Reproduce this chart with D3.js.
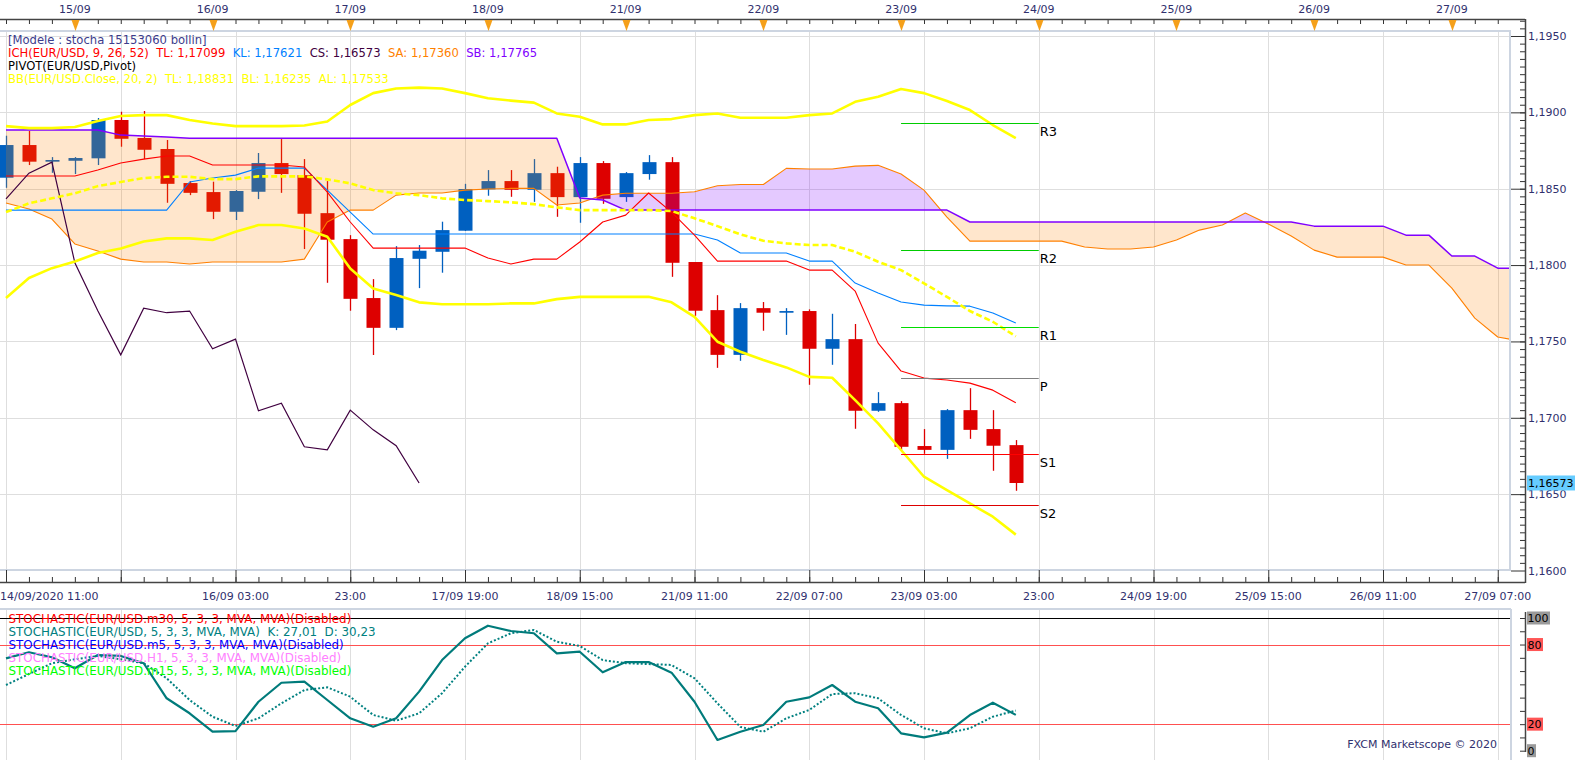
<!DOCTYPE html>
<html>
<head>
<meta charset="utf-8">
<script src="https://cdn.jsdelivr.net/npm/d3@7"></script>
<style>
body { margin: 0; background: #fff; }
svg { display: block; font-family: "DejaVu Sans", Verdana, sans-serif; }
text { white-space: pre; }
</style>
</head>
<body>
<svg id="chart" width="1583" height="760"></svg>
<script>
// EUR/USD H4 candles, index 0 = 14/09/2020 11:00
var open = [1.18572, 1.18786, 1.18677, 1.18683, 1.18699, 1.18950, 1.18832, 1.18760, 1.18537, 1.18478,
    1.18349, 1.18480, 1.18668, 1.18589, 1.18340, 1.18170, 1.17784, 1.17589, 1.18041, 1.18087,
    1.18225, 1.18496, 1.18550, 1.18493, 1.18602, 1.18445, 1.18668, 1.18445, 1.18596, 1.18674,
    1.18020, 1.17705, 1.17412, 1.17718, 1.17688, 1.17699, 1.17452, 1.17515, 1.17046, 1.17096,
    1.16815, 1.16790, 1.17050, 1.16926, 1.16821]
var high = [1.18847, 1.18878, 1.18707, 1.18707, 1.18963, 1.19004, 1.19009, 1.18819, 1.18550, 1.18546,
    1.18491, 1.18734, 1.18825, 1.18694, 1.18550, 1.18196, 1.17908, 1.18124, 1.18131, 1.18284,
    1.18532, 1.18622, 1.18622, 1.18694, 1.18644, 1.18707, 1.18681, 1.18609, 1.18720, 1.18707,
    1.18020, 1.17803, 1.17751, 1.17758, 1.17718, 1.17710, 1.17681, 1.17614, 1.17168, 1.17109,
    1.16926, 1.17057, 1.17194, 1.17050, 1.16854]
var low = [1.18506, 1.18655, 1.18604, 1.18596, 1.18655, 1.18775, 1.18694, 1.18408, 1.18458, 1.18301,
    1.18295, 1.18432, 1.18473, 1.18105, 1.17884, 1.17701, 1.17411, 1.17574, 1.17849, 1.17950,
    1.18223, 1.18454, 1.18447, 1.18414, 1.18316, 1.18277, 1.18401, 1.18414, 1.18559, 1.17923,
    1.17668, 1.17327, 1.17373, 1.17570, 1.17543, 1.17216, 1.17347, 1.16928, 1.17039, 1.16790,
    1.16764, 1.16731, 1.16862, 1.16653, 1.16522]
var close = [1.18786, 1.18677, 1.18688, 1.18701, 1.18950, 1.18827, 1.18755, 1.18532, 1.18473, 1.18349,
    1.18485, 1.18668, 1.18596, 1.18336, 1.18166, 1.17779, 1.17589, 1.18046, 1.18094, 1.18229,
    1.18498, 1.18550, 1.18493, 1.18602, 1.18445, 1.18668, 1.18434, 1.18602, 1.18674, 1.18015,
    1.17701, 1.17412, 1.17718, 1.17688, 1.17699, 1.17452, 1.17515, 1.17046, 1.17096, 1.16810,
    1.16790, 1.17050, 1.16921, 1.16817, 1.16573]

// Ichimoku
var tenkan = [1.18583, 1.18583, 1.18583, 1.18583, 1.18622, 1.18668, 1.18694, 1.18714, 1.18714, 1.18655,
    1.18655, 1.18655, 1.18655, 1.18642, 1.18478, 1.18282, 1.18111, 1.18111, 1.18111, 1.18111,
    1.18111, 1.18046, 1.18007, 1.18039, 1.18039, 1.18151, 1.18282, 1.18327, 1.18472, 1.18347,
    1.18196, 1.18026, 1.18026, 1.18026, 1.18026, 1.17967, 1.17967, 1.17830, 1.17489, 1.17306,
    1.17260, 1.17247, 1.17227, 1.17181, 1.17099]
var kijun = [1.18360, 1.18360, 1.18360, 1.18360, 1.18360, 1.18360, 1.18360, 1.18360, 1.18544, 1.18570,
    1.18589, 1.18635, 1.18635, 1.18635, 1.18491, 1.18347, 1.18203, 1.18203, 1.18203, 1.18203,
    1.18203, 1.18203, 1.18203, 1.18203, 1.18203, 1.18203, 1.18203, 1.18203, 1.18203, 1.18203,
    1.18203, 1.18164, 1.18079, 1.18079, 1.18079, 1.18026, 1.18026, 1.17882, 1.17817, 1.17758,
    1.17738, 1.17733, 1.17731, 1.17686, 1.17621]
var spanA = [1.18406, 1.18367, 1.18301, 1.18138, 1.18092, 1.18039, 1.18020, 1.18020, 1.18007, 1.18020,
    1.18020, 1.18020, 1.18020, 1.18039, 1.18282, 1.18360, 1.18360, 1.18458, 1.18472, 1.18472,
    1.18491, 1.18498, 1.18502, 1.18502, 1.18393, 1.18406, 1.18458, 1.18470, 1.18470, 1.18470,
    1.18480, 1.18519, 1.18528, 1.18528, 1.18633, 1.18629, 1.18629, 1.18648, 1.18653, 1.18596,
    1.18491, 1.18314, 1.18157, 1.18157, 1.18157, 1.18157, 1.18157, 1.18118, 1.18105, 1.18105,
    1.18118, 1.18164, 1.18229, 1.18262, 1.18341, 1.18269, 1.18190, 1.18098, 1.18052, 1.18052,
    1.18052, 1.18000, 1.18000, 1.17849, 1.17653, 1.17529, 1.17502]
var spanB = [1.18884, 1.18884, 1.18884, 1.18884, 1.18884, 1.18851, 1.18845, 1.18838, 1.18830, 1.18830,
    1.18830, 1.18830, 1.18830, 1.18830, 1.18830, 1.18830, 1.18830, 1.18830, 1.18830, 1.18830,
    1.18830, 1.18830, 1.18830, 1.18830, 1.18830, 1.18439, 1.18426, 1.18360, 1.18360, 1.18360,
    1.18360, 1.18360, 1.18360, 1.18360, 1.18360, 1.18360, 1.18360, 1.18360, 1.18360, 1.18360,
    1.18360, 1.18360, 1.18282, 1.18282, 1.18282, 1.18282, 1.18282, 1.18282, 1.18282, 1.18282,
    1.18282, 1.18282, 1.18282, 1.18282, 1.18282, 1.18282, 1.18282, 1.18255, 1.18255, 1.18255,
    1.18255, 1.18196, 1.18196, 1.18059, 1.18059, 1.17980, 1.17980]

// Bollinger (20, 2)
var bbUp = [1.18910, 1.18897, 1.18897, 1.18904, 1.18943, 1.18976, 1.18982, 1.18982, 1.18950, 1.18927,
    1.18910, 1.18910, 1.18910, 1.18914, 1.18940, 1.19048, 1.19126, 1.19156, 1.19162, 1.19156,
    1.19126, 1.19092, 1.19077, 1.19064, 1.18993, 1.18971, 1.18921, 1.18921, 1.18950, 1.18956,
    1.18982, 1.18993, 1.18965, 1.18965, 1.18965, 1.18982, 1.18993, 1.19069, 1.19102, 1.19153,
    1.19126, 1.19074, 1.19015, 1.18917, 1.18831]
var bbMid = [1.18347, 1.18404, 1.18437, 1.18470, 1.18517, 1.18544, 1.18570, 1.18578, 1.18578, 1.18563,
    1.18563, 1.18581, 1.18581, 1.18581, 1.18561, 1.18535, 1.18491, 1.18470, 1.18458, 1.18437,
    1.18426, 1.18419, 1.18411, 1.18399, 1.18378, 1.18360, 1.18360, 1.18360, 1.18360, 1.18354,
    1.18306, 1.18255, 1.18201, 1.18159, 1.18142, 1.18131, 1.18131, 1.18087, 1.18022, 1.17967,
    1.17880, 1.17792, 1.17699, 1.17629, 1.17533]
var bbLow = [1.17784, 1.17915, 1.17980, 1.18023, 1.18079, 1.18108, 1.18154, 1.18175, 1.18175, 1.18164,
    1.18218, 1.18262, 1.18262, 1.18240, 1.18185, 1.17978, 1.17847, 1.17804, 1.17756, 1.17743,
    1.17743, 1.17743, 1.17749, 1.17749, 1.17777, 1.17792, 1.17792, 1.17792, 1.17792, 1.17756,
    1.17661, 1.17498, 1.17432, 1.17378, 1.17330, 1.17268, 1.17262, 1.17116, 1.16963, 1.16789,
    1.16614, 1.16527, 1.16439, 1.16352, 1.16235]

// daily pivots for 23/09
var pivotNames = ["R3", "R2", "R1", "P", "S1", "S2"]
var pivotValues = [1.18928, 1.18096, 1.17592, 1.17258, 1.16762, 1.16426]
var pivotColors = ["#00cc00", "#00cc00", "#00dd00", "#808080", "#ff0000", "#dd0000"]

// stochastic 5,3,3
var stochK = [69.6, 74.2, 70.4, 62.1, 72.1, 71.4, 65.9, 39.5, 28.2, 14.3,
    14.8, 36.9, 51.2, 52.0, 38.2, 24.4, 18.1, 24.4, 44.5, 68.3,
    84.7, 94.2, 90.2, 88.5, 73.4, 74.6, 59.1, 66.8, 66.8, 58.8,
    36.9, 8.1, 14.3, 19.4, 36.9, 40.2, 49.5, 36.9, 32.0, 13.1,
    10.1, 13.6, 26.9, 36.2, 27.01]
var stochD = [49.5, 57.8, 65.9, 68.9, 71.4, 68.9, 65.9, 54.6, 38.2, 25.6,
    18.6, 24.4, 35.7, 45.7, 47.8, 40.7, 26.9, 22.6, 28.2, 43.3,
    63.3, 80.9, 88.5, 91.0, 82.1, 78.9, 68.3, 65.9, 65.3, 64.6,
    54.6, 35.7, 17.9, 14.3, 24.4, 30.7, 42.7, 43.3, 39.5, 26.9,
    16.9, 13.1, 16.9, 25.6, 30.23]

// axis labels
var dayIdx = [3, 9, 15, 21, 27, 33, 39, 45, 51, 57, 63]
var dayLabels = ["15/09", "16/09", "17/09", "18/09", "21/09", "22/09", "23/09", "24/09", "25/09", "26/09", "27/09"]
var timeIdx = [0, 10, 15, 20, 25, 30, 35, 40, 45, 50, 55, 60, 65]
var timeLabels = ["14/09/2020 11:00", "16/09 03:00", "23:00", "17/09 19:00", "18/09 15:00", "21/09 11:00",
    "22/09 07:00", "23/09 03:00", "23:00", "24/09 19:00", "25/09 15:00", "26/09 11:00", "27/09 07:00"]

var legendTop = [
    [["[Modele : stocha 15153060 bollin]", "#3c3c8c"]],
    [["ICH(EUR/USD, 9, 26, 52)  ", "#ff0000"], ["TL: 1,17099  ", "#ff0000"], ["KL: 1,17621  ", "#0080ff"],
     ["CS: 1,16573  ", "#400040"], ["SA: 1,17360  ", "#ff8000"], ["SB: 1,17765", "#8000ff"]],
    [["PIVOT(EUR/USD,Pivot)", "#000000"]],
    [["BB(EUR/USD.Close, 20, 2)  TL: 1,18831  BL: 1,16235  AL: 1,17533", "#ffff00"]]
]
var legendStoch = [
    ["STOCHASTIC(EUR/USD.m30, 5, 3, 3, MVA, MVA)(Disabled)", "#ff0000"],
    ["STOCHASTIC(EUR/USD, 5, 3, 3, MVA, MVA)  K: 27,01  D: 30,23", "#008080"],
    ["STOCHASTIC(EUR/USD.m5, 5, 3, 3, MVA, MVA)(Disabled)", "#0000ff"],
    ["STOCHASTIC(EUR/USD.H1, 5, 3, 3, MVA, MVA)(Disabled)", "#ff80ff"],
    ["STOCHASTIC(EUR/USD.m15, 5, 3, 3, MVA, MVA)(Disabled)", "#00ff00"]
]

const svg = d3.select("#chart")
const H = 760
const plotR = 1511, axisX = 1525
const navy = "#30306e"

const x = d3.scaleLinear().domain([0, 65]).range([6, 6 + 65 * 22.95])
const y = d3.scaleLinear().domain([1.16, 1.195]).range([570.5, 36])
const ys = d3.scaleLinear().domain([0, 100]).range([750.7, 618])
const comma = n => v => d3.format("." + n + "f")(v).replace(".", ",")

const idx = d3.range(open.length)
const cloudIdx = d3.range(spanA.length)

const defs = svg.append("defs")
defs.append("clipPath").attr("id", "cp-price")
    .append("rect").attr("x", 0).attr("y", 31).attr("width", plotR).attr("height", 539)
defs.append("clipPath").attr("id", "cp-stoch")
    .append("rect").attr("x", 0).attr("y", 609).attr("width", plotR).attr("height", 151)
defs.append("clipPath").attr("id", "cp-aboveA")
    .append("path").attr("d", d3.area().x(i => x(i)).y0(0).y1(i => y(spanA[i]))(cloudIdx))
defs.append("clipPath").attr("id", "cp-belowA")
    .append("path").attr("d", d3.area().x(i => x(i)).y0(H).y1(i => y(spanA[i]))(cloudIdx))

// ---------- price panel ----------
const main = svg.append("g").attr("clip-path", "url(#cp-price)")
const gridX = d3.range(0, 66, 5)
const priceTicks = d3.range(1.16, 1.19501, 0.005)

main.selectAll(".vg").data(gridX).join("line")
    .attr("x1", d => Math.round(x(d)) + 0.5).attr("x2", d => Math.round(x(d)) + 0.5)
    .attr("y1", 31).attr("y2", 570)
    .attr("stroke", "#dedede")
main.selectAll(".hg").data(priceTicks).join("line")
    .attr("x1", 0).attr("x2", plotR)
    .attr("y1", d => Math.round(y(d)) + 0.5).attr("y2", d => Math.round(y(d)) + 0.5)
    .attr("stroke", "#dedede")

const candleColor = i => close[i] >= open[i] ? "#0060c0" : "#dd0000"
main.selectAll(".wick").data(idx).join("line")
    .attr("x1", i => Math.round(x(i)) + 0.5).attr("x2", i => Math.round(x(i)) + 0.5)
    .attr("y1", i => y(high[i])).attr("y2", i => y(low[i]))
    .attr("stroke", candleColor).attr("stroke-width", 1.3)
main.selectAll(".body").data(idx).join("rect")
    .attr("x", i => Math.round(x(i)) - 6.5)
    .attr("y", i => y(Math.max(open[i], close[i])))
    .attr("width", 14)
    .attr("height", i => Math.max(1.5, y(Math.min(open[i], close[i])) - y(Math.max(open[i], close[i]))))
    .attr("fill", candleColor)

// kumo, drawn over the candles
const band = d3.area().x(i => x(i)).y0(i => y(spanA[i])).y1(i => y(spanB[i]))
main.append("g").attr("clip-path", "url(#cp-aboveA)")
    .append("path").attr("d", band(cloudIdx)).attr("fill", "#ff8000").attr("fill-opacity", 0.2)
main.append("g").attr("clip-path", "url(#cp-belowA)")
    .append("path").attr("d", band(cloudIdx)).attr("fill", "#8000ff").attr("fill-opacity", 0.21)

function series(arr, ids, color, width, dash) {
    const p = main.append("path")
        .datum(ids)
        .attr("fill", "none")
        .attr("stroke", color)
        .attr("stroke-width", width)
        .attr("stroke-linejoin", "round")
        .attr("d", d3.line().x(i => x(i)).y(i => y(arr[i])))
    if (dash) p.attr("stroke-dasharray", dash)
    return p
}

series(spanA, cloudIdx, "#ff8000", 1.1)
series(spanB, cloudIdx, "#8000ff", 1.5)
series(kijun, idx, "#0080ff", 1.1)
series(tenkan, idx, "#ff0000", 1.1)

// chikou = close shifted 26 bars back
const chikIdx = d3.range(0, close.length - 26)
main.append("path")
    .datum(chikIdx)
    .attr("fill", "none")
    .attr("stroke", "#400040")
    .attr("stroke-width", 1.2)
    .attr("d", d3.line().x(i => x(i)).y(i => y(close[i + 26])))

series(bbUp, idx, "#ffff00", 2.6)
series(bbLow, idx, "#ffff00", 2.6)
series(bbMid, idx, "#ffff00", 2.6, "6,3")

// pivots
pivotValues.forEach((v, k) => {
    const py = Math.round(y(v)) + 0.5
    main.append("line")
        .attr("x1", x(39)).attr("x2", x(45))
        .attr("y1", py).attr("y2", py)
        .attr("stroke", pivotColors[k]).attr("stroke-width", 1.2)
    main.append("text")
        .attr("x", x(45) + 1).attr("y", py + 12)
        .attr("font-size", 13).attr("fill", "#000")
        .text(pivotNames[k])
})

// frame
svg.append("rect").attr("x", -2).attr("y", 31).attr("width", plotR + 1).attr("height", 539)
    .attr("fill", "none").attr("stroke", "#cdd5e1").attr("stroke-width", 2)

// legends: one text per row, coloured tspans
legendTop.forEach((row, r) => {
    svg.append("text")
        .attr("x", 8).attr("y", 43.5 + r * 13)
        .attr("font-size", 11.6)
        .selectAll("tspan").data(row).join("tspan")
        .attr("fill", d => d[1])
        .text(d => d[0])
})

// ---------- top axis ----------
const topAx = svg.append("g").attr("transform", "translate(0,19)")
topAx.call(d3.axisBottom(x).tickValues(d3.range(0, 66)).tickSize(5).tickFormat(""))
topAx.select(".domain").remove()
topAx.selectAll("line").attr("stroke", "#333")
svg.append("line").attr("x1", 0).attr("x2", axisX).attr("y1", 19.5).attr("y2", 19.5).attr("stroke", "#444").attr("stroke-width", 1.5)
svg.selectAll(".tri").data(dayIdx).join("path")
    .attr("d", d => { const c = Math.round(x(d)) + 0.5; return `M${c - 4},20 L${c + 4},20 L${c},31 Z` })
    .attr("fill", "#f5a01a")
svg.selectAll(".dayl").data(dayIdx).join("text")
    .attr("x", d => x(d)).attr("y", 13)
    .attr("text-anchor", "middle").attr("font-size", 11).attr("fill", navy)
    .text((d, k) => dayLabels[k])

// ---------- bottom time axis ----------
const botAx = svg.append("g").attr("transform", "translate(0,582)")
botAx.call(d3.axisBottom(x).tickValues(d3.range(0, 66)).tickSizeInner(-5).tickSizeOuter(0).tickFormat(""))
botAx.select(".domain").remove()
const botMaj = svg.append("g").attr("transform", "translate(0,582)")
botMaj.call(d3.axisBottom(x).tickValues(gridX).tickSizeInner(-12).tickSizeOuter(0).tickFormat(""))
botMaj.select(".domain").remove()
svg.selectAll("g.tick line").attr("stroke", "#333")
svg.append("line").attr("x1", 0).attr("x2", axisX).attr("y1", 582.5).attr("y2", 582.5).attr("stroke", "#444").attr("stroke-width", 1.5)
svg.selectAll(".timel").data(timeIdx).join("text")
    .attr("x", d => d === 0 ? 0 : x(d)).attr("y", 600)
    .attr("text-anchor", d => d === 0 ? "start" : "middle")
    .attr("font-size", 11).attr("fill", navy)
    .text((d, k) => timeLabels[k])

// ---------- price axis ----------
const pAx = svg.append("g").attr("transform", `translate(${axisX},0)`)
pAx.call(d3.axisRight(y).tickValues(d3.range(1.1605, 1.1975, 0.0005).filter(v => y(v) > 20 && y(v) < 580))
    .tickSizeInner(-5).tickSizeOuter(0).tickFormat(""))
pAx.select(".domain").remove()
const pAx2 = svg.append("g").attr("transform", `translate(${axisX},0)`)
pAx2.call(d3.axisRight(y).tickValues(priceTicks).tickSizeInner(-14).tickSizeOuter(0).tickPadding(3).tickFormat(comma(4)))
pAx2.select(".domain").remove()
pAx2.selectAll("text").attr("font-size", 11).attr("fill", navy).attr("font-family", "DejaVu Sans")
pAx.selectAll("line").attr("stroke", "#333")
pAx2.selectAll("line").attr("stroke", "#333")
svg.append("line").attr("x1", axisX + 0.5).attr("x2", axisX + 0.5).attr("y1", 19).attr("y2", 583).attr("stroke", "#444").attr("stroke-width", 1.5)

const last = close[close.length - 1]
svg.append("rect").attr("x", axisX + 2).attr("y", y(last) - 7.5).attr("width", 48).attr("height", 15).attr("fill", "#66ccff")
svg.append("text").attr("x", axisX + 3).attr("y", y(last) + 4).attr("font-size", 11).attr("fill", "#000").text(comma(5)(last))

// ---------- stochastic panel ----------
const st = svg.append("g").attr("clip-path", "url(#cp-stoch)")
st.selectAll(".svg").data(gridX).join("line")
    .attr("x1", d => Math.round(x(d)) + 0.5).attr("x2", d => Math.round(x(d)) + 0.5)
    .attr("y1", 609).attr("y2", 760)
    .attr("stroke", "#dedede")
st.append("line").attr("x1", 0).attr("x2", plotR).attr("y1", Math.round(ys(100)) + 0.5).attr("y2", Math.round(ys(100)) + 0.5).attr("stroke", "#000")
;[80, 20].forEach(v => {
    st.append("line").attr("x1", 0).attr("x2", plotR).attr("y1", Math.round(ys(v)) + 0.5).attr("y2", Math.round(ys(v)) + 0.5).attr("stroke", "#ff5050")
})

legendStoch.forEach((row, r) => {
    svg.append("text")
        .attr("x", 8.5).attr("y", 622.5 + r * 13)
        .attr("font-size", 11.9).attr("fill", row[1])
        .text(row[0])
})

st.append("path").datum(idx)
    .attr("fill", "none").attr("stroke", "#008080").attr("stroke-width", 2)
    .attr("stroke-dasharray", "2,2")
    .attr("d", d3.line().x(i => x(i)).y(i => ys(stochD[i])))
st.append("path").datum(idx)
    .attr("fill", "none").attr("stroke", "#007b7b").attr("stroke-width", 2.2)
    .attr("stroke-linejoin", "round")
    .attr("d", d3.line().x(i => x(i)).y(i => ys(stochK[i])))

svg.append("line").attr("x1", 0).attr("x2", plotR).attr("y1", 609).attr("y2", 609).attr("stroke", "#cdd5e1").attr("stroke-width", 2)
svg.append("line").attr("x1", plotR).attr("x2", plotR).attr("y1", 609).attr("y2", 760).attr("stroke", "#cdd5e1").attr("stroke-width", 2)

const sAx = svg.append("g").attr("transform", `translate(${axisX},0)`)
sAx.call(d3.axisRight(ys).tickValues(d3.range(0, 101, 10)).tickSizeInner(-5).tickSizeOuter(0).tickFormat(""))
sAx.select(".domain").remove()
sAx.selectAll("line").attr("stroke", "#333")
svg.append("line").attr("x1", axisX + 0.5).attr("x2", axisX + 0.5).attr("y1", 612).attr("y2", 752).attr("stroke", "#444").attr("stroke-width", 1.5)
const stochLab = [[100, "#9a9a9a"], [80, "#ff5555"], [20, "#ff5555"], [0, "#9a9a9a"]]
stochLab.forEach(d => {
    const t = String(d[0])
    svg.append("rect").attr("x", axisX + 2).attr("y", ys(d[0]) - 6.5)
        .attr("width", t.length * 7 + 2).attr("height", 13).attr("fill", d[1])
    svg.append("text").attr("x", axisX + 2.5).attr("y", ys(d[0]) + 4)
        .attr("font-size", 11).attr("fill", "#000").text(t)
})

svg.append("text").attr("x", 1497).attr("y", 748)
    .attr("text-anchor", "end").attr("font-size", 11).attr("fill", navy)
    .text("FXCM Marketscope © 2020")
</script>
</body>
</html>
